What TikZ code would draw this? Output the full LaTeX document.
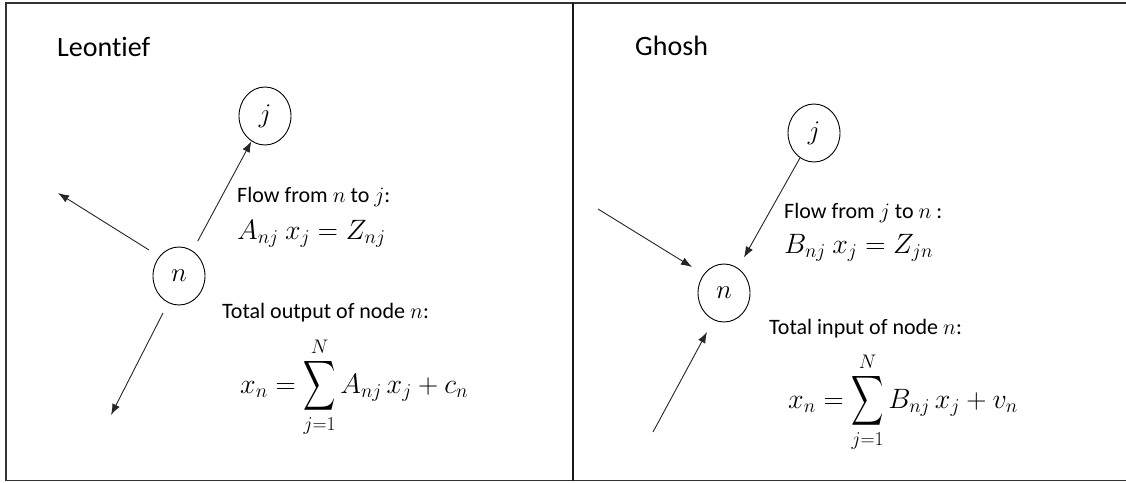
\RequirePackage{fix-cm}
\documentclass[tikz,border=0pt]{standalone}
\usepackage{amsmath}
\usepackage{fontspec}
\setmainfont{Carlito}[Ligatures=NoCommon]
\usetikzlibrary{shapes.geometric,arrows.meta}
\newcommand\tallsum{\mathop{\vcenter{\hbox{\scalebox{0.9}[1.4]{$\displaystyle\sum$}}}}\limits}
\begin{document}
\begin{tikzpicture}[x=1pt,y=-1pt,
  circ/.style={draw, ellipse, line width=0.9pt, minimum width=52, minimum height=58, inner sep=0pt, font=\fontsize{27}{30}\selectfont},
  arr/.style={draw=black!85, line width=0.9pt, -{Latex[length=11pt,width=8pt]}},
  title/.style={anchor=base west, inner sep=0pt, font=\fontsize{28}{32}\selectfont},
  lbl/.style={anchor=base west, inner sep=0pt, font=\fontsize{22}{26}\selectfont},
  eq/.style={anchor=base west, inner sep=0pt, font=\fontsize{28}{34}\selectfont}]
\useasboundingbox (0,0) rectangle (1126,482);
\fill[white] (0,0) rectangle (1126,482);
% frame
\draw[black!80, line width=1.5pt] (1126,3) -- (6,3) -- (6,480.5) -- (1126,480.5);
\draw[black!90, line width=2.5pt] (573,3) -- (573,480.5);
% Leontief panel
\node[title] (tL) at (57,56) {Leontief};
\node[circ] (jL) at (265,116) {$j$};
\node[circ] (nL) at (179,276) {$n$};
\draw[arr, shorten <=11pt] (nL) -- (jL);
\coordinate (aL1s) at (149,250);
\coordinate (aL1e) at (58,193);
\coordinate (aL2s) at (163,313);
\coordinate (aL2e) at (111,415);
\draw[arr] (aL1s) -- (aL1e);
\draw[arr] (aL2s) -- (aL2e);
\node[lbl] (fL) at (237,202) {Flow from $n$ to $j$:};
\node[eq] (eL) at (237,239) {$A_{nj}\ x_j = Z_{nj}$};
\node[lbl] (oL) at (222,318) {Total output of node $n$:};
\node[eq] (sL) at (240,393) {$\displaystyle x_n = \tallsum_{j=1}^{N} A_{nj}\,x_j + c_n$};
% Ghosh panel
\node[title] (tR) at (635,55) {Ghosh};
\node[circ] (jR) at (814,133) {$j$};
\node[circ] (nR) at (724,293) {$n$};
\draw[arr, shorten >=12pt] (jR) -- (nR);
\coordinate (aR1s) at (598,209);
\coordinate (aR1e) at (692,267);
\coordinate (aR2s) at (653,432);
\coordinate (aR2e) at (707,332);
\draw[arr] (aR1s) -- (aR1e);
\draw[arr] (aR2s) -- (aR2e);
\node[lbl] (fR) at (784,218) {Flow from $j$ to $n$ :};
\node[eq] (eR) at (784,253) {$B_{nj}\ x_j = Z_{jn}$};
\node[lbl] (iR) at (769,334) {Total input of node $n$:};
\node[eq] (sR) at (788,408) {$\displaystyle x_n = \tallsum_{j=1}^{N} B_{nj}\,x_j + v_n$};
\end{tikzpicture}
\end{document}
